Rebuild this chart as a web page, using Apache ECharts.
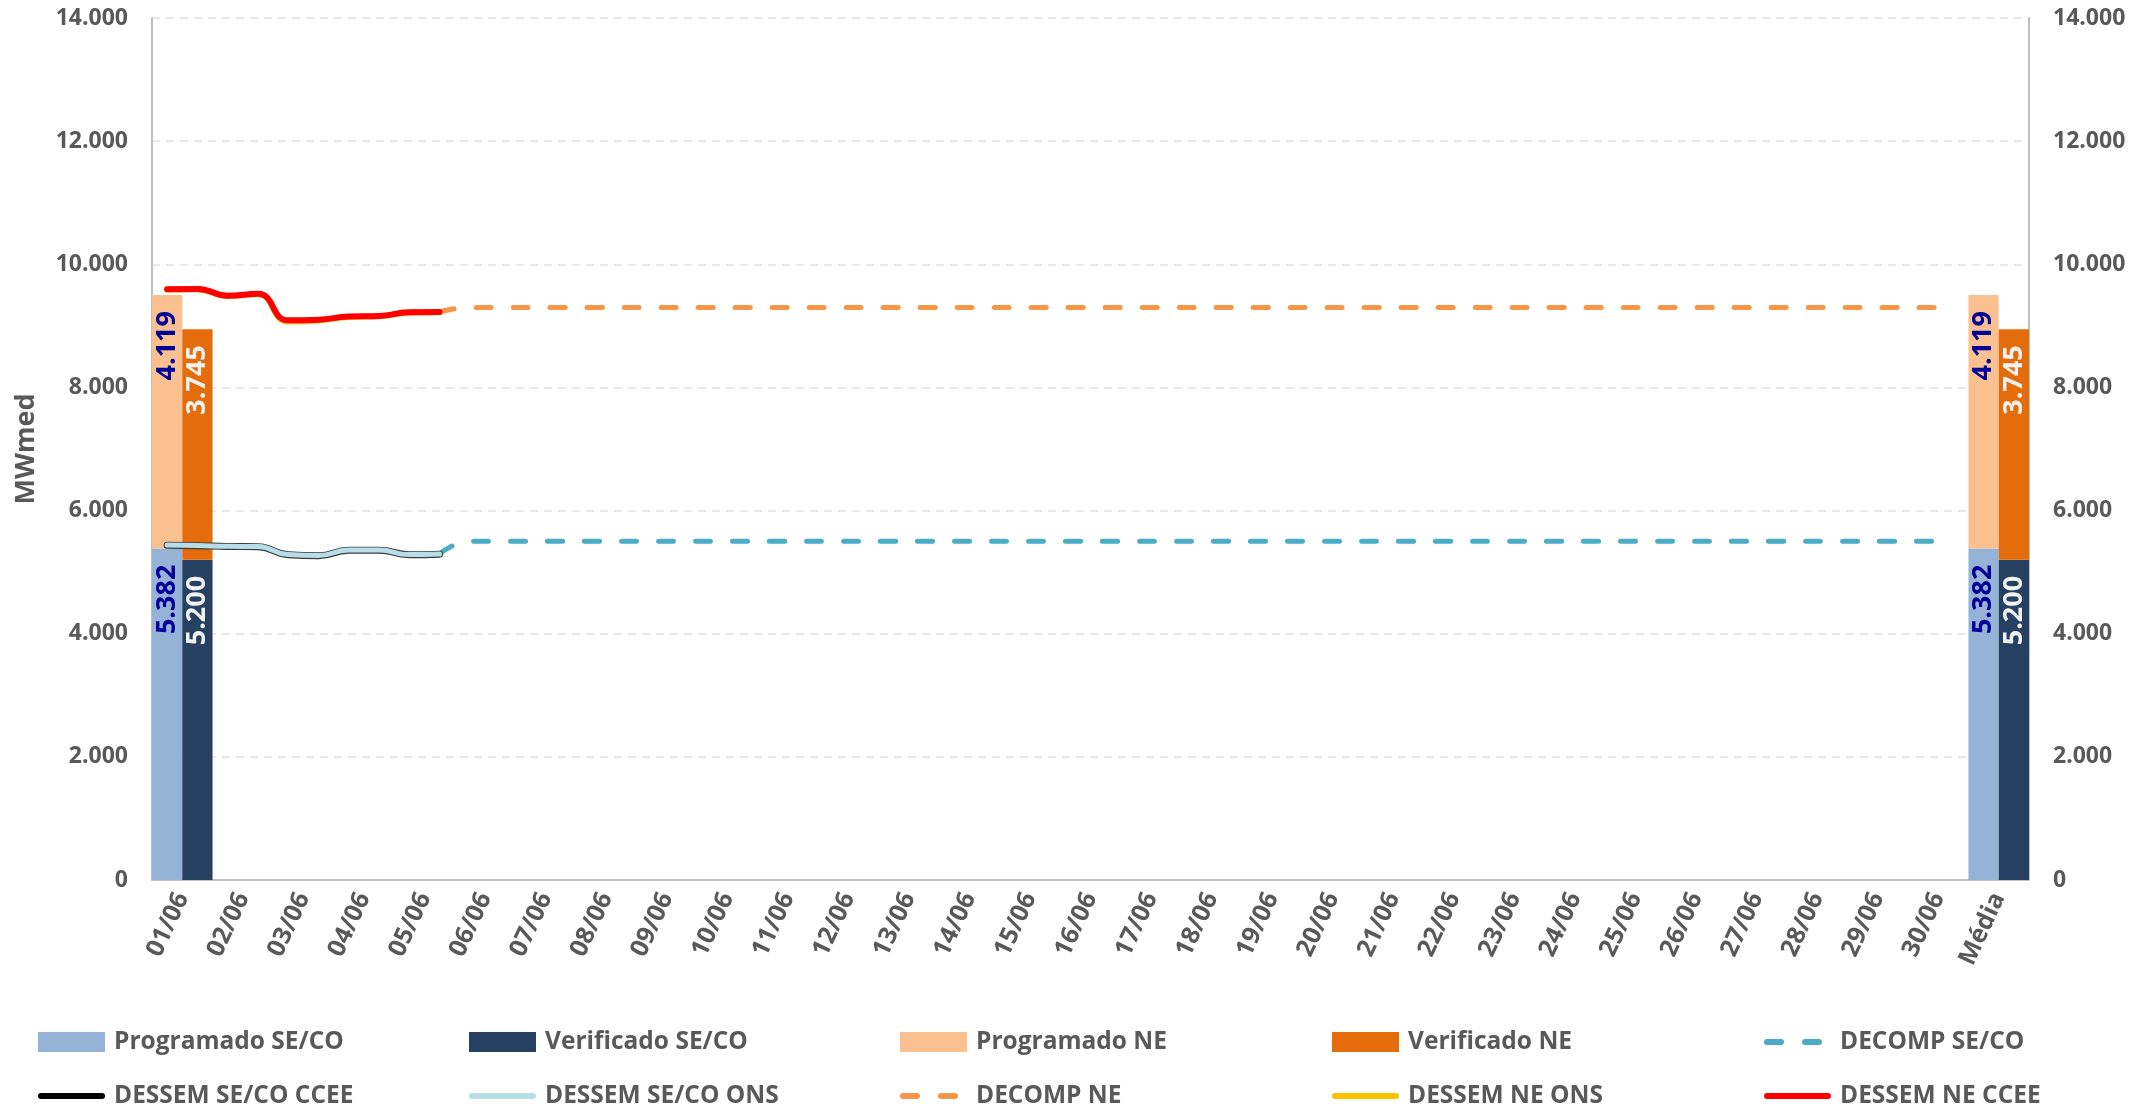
<!DOCTYPE html>
<html>
<head>
<meta charset="utf-8">
<script src="https://cdn.jsdelivr.net/npm/echarts@6/dist/echarts.min.js"></script>
<style>
html,body{margin:0;padding:0;background:#fff;}
#chart{width:2149px;height:1109px;}
</style>
</head>
<body>
<div id="chart"></div>
<script>
// ---- DATA ----
const categories = ['01/06','02/06','03/06','04/06','05/06','06/06','07/06','08/06','09/06','10/06',
  '11/06','12/06','13/06','14/06','15/06','16/06','17/06','18/06','19/06','20/06',
  '21/06','22/06','23/06','24/06','25/06','26/06','27/06','28/06','29/06','30/06','Média'];

const programadoSECO = [5382,null,null,null,null,null,null,null,null,null,null,null,null,null,null,null,null,null,null,null,null,null,null,null,null,null,null,null,null,null,5382];
const verificadoSECO = [5200,null,null,null,null,null,null,null,null,null,null,null,null,null,null,null,null,null,null,null,null,null,null,null,null,null,null,null,null,null,5200];
const programadoNE   = [4119,null,null,null,null,null,null,null,null,null,null,null,null,null,null,null,null,null,null,null,null,null,null,null,null,null,null,null,null,null,4119];
const verificadoNE   = [3745,null,null,null,null,null,null,null,null,null,null,null,null,null,null,null,null,null,null,null,null,null,null,null,null,null,null,null,null,null,3745];

// half-day resolution series (secondary hidden axis, 2 slots per category)
const dessemSECOCCEE = [5437,5429,5417,5412,5282,5267,5357,5357,5282,5292];
const dessemSECOONS  = [5440,5432,5420,5415,5285,5270,5360,5360,5285,5295];
const dessemNEONS    = [9590,9595,9485,9515,9072,9088,9145,9155,9215,9220];
const dessemNECCEE   = [9595,9600,9490,9520,9090,9100,9150,9160,9220,9225];
// DECOMP from slot 9 to slot 59
const decompSECO = [5295,5500,5500,5500,5500,5500,5500,5500,5500,5500,5500,5500,5500,5500,5500,5500,5500,5500,5500,5500,5500,5500,5500,5500,5500,5500,5500,5500,5500,5500,5500,5500,5500,5500,5500,5500,5500,5500,5500,5500,5500,5500,5500,5500,5500,5500,5500,5500,5500,5500,5500];
const decompNE   = [9225,9300,9300,9300,9300,9300,9300,9300,9300,9300,9300,9300,9300,9300,9300,9300,9300,9300,9300,9300,9300,9300,9300,9300,9300,9300,9300,9300,9300,9300,9300,9300,9300,9300,9300,9300,9300,9300,9300,9300,9300,9300,9300,9300,9300,9300,9300,9300,9300,9300,9300];
const decompStartSlot = 9;

const yTicks = [0,2000,4000,6000,8000,10000,12000,14000];

// ---- build helpers ----
const slots = [];
categories.forEach(c => { slots.push(c + ' a'); slots.push(c + ' b'); });
function toSlots(arr, start) {
  const out = new Array(slots.length).fill(null);
  arr.forEach((v, i) => { out[start + i] = v; });
  return out;
}
function fmt(v) {
  if (v === 0) return '0';
  const s = Math.round(v).toString();
  return s.replace(/\B(?=(\d{3})+(?!\d))/g, '.');
}

const FONT = "'Open Sans', 'Noto Sans', sans-serif";
const GRAY = '#595959';

function barLabel(color) {
  return {
    show: true, position: 'insideTop', rotate: 90, align: 'right', verticalAlign: 'middle',
    distance: 16, color: color, fontFamily: FONT, fontWeight: 'bold', fontSize: 27,
    formatter: p => fmt(p.value)
  };
}

const series = [
  { name: 'Programado SE/CO', type: 'bar', stack: 'prog', data: programadoSECO,
    itemStyle: { color: '#95B3D7' }, label: barLabel('#000099') },
  { name: 'Verificado SE/CO', type: 'bar', stack: 'ver', data: verificadoSECO,
    itemStyle: { color: '#254061' }, label: barLabel('#F2F2F2') },
  { name: 'Programado NE', type: 'bar', stack: 'prog', data: programadoNE,
    itemStyle: { color: '#FAC090' }, label: barLabel('#000099') },
  { name: 'Verificado NE', type: 'bar', stack: 'ver', data: verificadoNE,
    itemStyle: { color: '#E46C0A' }, label: barLabel('#F2F2F2') },
  { name: 'DECOMP SE/CO', type: 'line', xAxisIndex: 1, data: toSlots(decompSECO, decompStartSlot),
    symbol: 'none', smooth: 0.5, itemStyle: { color: '#4BACC6' }, dashed: true,
    lineStyle: { color: '#4BACC6', width: 5, type: [15, 22], cap: 'round' } },
  { name: 'DESSEM SE/CO CCEE', type: 'line', xAxisIndex: 1, data: toSlots(dessemSECOCCEE, 0),
    symbol: 'none', smooth: 0.5, itemStyle: { color: '#000000' },
    lineStyle: { color: '#3A3A3A', width: 7, cap: 'round' } },
  { name: 'DESSEM SE/CO ONS', type: 'line', xAxisIndex: 1, data: toSlots(dessemSECOONS, 0),
    symbol: 'none', smooth: 0.5, itemStyle: { color: '#B7DEE8' },
    lineStyle: { color: '#B7DEE8', width: 5, cap: 'round' } },
  { name: 'DECOMP NE', type: 'line', xAxisIndex: 1, data: toSlots(decompNE, decompStartSlot),
    symbol: 'none', smooth: 0.5, itemStyle: { color: '#F79646' }, dashed: true,
    lineStyle: { color: '#F79646', width: 5, type: [15, 22], cap: 'round' } },
  { name: 'DESSEM NE ONS', type: 'line', xAxisIndex: 1, data: toSlots(dessemNEONS, 0),
    symbol: 'none', smooth: 0.5, itemStyle: { color: '#FFC000' },
    lineStyle: { color: '#FFC000', width: 6, cap: 'round' } },
  { name: 'DESSEM NE CCEE', type: 'line', xAxisIndex: 1, data: toSlots(dessemNECCEE, 0),
    symbol: 'none', smooth: 0.5, itemStyle: { color: '#FF0000' },
    lineStyle: { color: '#FF0000', width: 6, cap: 'round' } }
];

const SOLID_ICON = 'path://M3,0L64,0A3,3,0,0,1,64,6L3,6A3,3,0,0,1,3,0Z';
const DASH_ICON = 'path://M3,0L17,0A3,3,0,0,1,17,6L3,6A3,3,0,0,1,3,0ZM41,0L55,0A3,3,0,0,1,55,6L41,6A3,3,0,0,1,41,0Z';

const legendCols = [38, 469, 900, 1332, 1764];
const legendRowCenters = [1040, 1094];
const legends = series.map((s, i) => {
  const isBar = s.type === 'bar';
  const center = legendRowCenters[Math.floor(i / 5)];
  const l = {
    data: [s.name], left: legendCols[i % 5], top: center - 13,
    padding: 0, itemWidth: 67, itemHeight: 20, selectedMode: false, itemGap: 0,
    itemStyle: { borderWidth: 0 },
    textStyle: { color: GRAY, fontFamily: FONT, fontWeight: 'bold', fontSize: 24.5, lineHeight: 30, padding: [0,0,0,4] }
  };
  if (isBar) {
    l.icon = 'rect';
  } else if (s.dashed) {
    l.icon = DASH_ICON; l.itemWidth = 58; l.itemHeight = 6;
    l.textStyle.padding = [0,0,0,13];
  } else {
    l.icon = SOLID_ICON; l.itemWidth = 67; l.itemHeight = 6;
  }
  return l;
});

const yAxisCommon = {
  type: 'value', min: 0, max: 14000, interval: 2000,
  axisLine: { show: true, lineStyle: { color: '#BFBFBF', width: 2 } },
  axisTick: { show: false },
  axisLabel: { color: GRAY, fontFamily: FONT, fontWeight: 'bold', fontSize: 23, margin: 24, formatter: fmt }
};

const option = {
  backgroundColor: '#ffffff',
  animation: false,
  grid: { left: 152, right: 120, top: 18, bottom: 229, containLabel: false },
  legend: legends,
  xAxis: [
    { type: 'category', data: categories, boundaryGap: true,
      axisLine: { show: true, lineStyle: { color: '#BFBFBF', width: 2 } },
      axisTick: { show: false },
      axisLabel: { interval: 0, rotate: 65, margin: 14, color: GRAY, fontFamily: FONT, fontWeight: 'bold', fontSize: 25 } },
    { type: 'category', data: slots, boundaryGap: true, show: false }
  ],
  yAxis: [
    Object.assign({}, yAxisCommon, {
      position: 'left', name: 'MWmed', nameLocation: 'middle', nameGap: 112, nameRotate: 90,
      nameTextStyle: { color: GRAY, fontFamily: FONT, fontWeight: 'bold', fontSize: 27 },
      splitLine: { show: true, lineStyle: { color: '#E3E9EC', width: 2, type: [8, 6] } }
    }),
    Object.assign({}, yAxisCommon, { position: 'right', splitLine: { show: false } })
  ],
  series: series.map(s => { const o = Object.assign({ barGap: '0%', barCategoryGap: '0%' }, s); delete o.dashed; return o; })
};

const chart = echarts.init(document.getElementById('chart'), null, { renderer: 'canvas' });
chart.setOption(option);
</script>
</body>
</html>
